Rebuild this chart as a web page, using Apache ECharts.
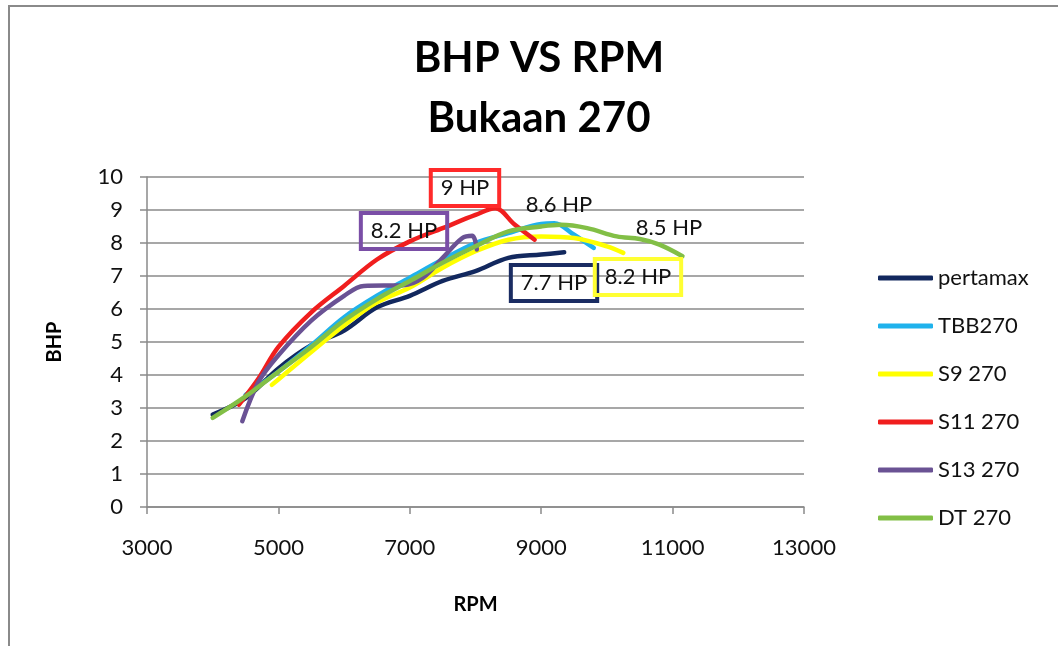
<!DOCTYPE html>
<html>
<head>
<meta charset="utf-8">
<script src="https://cdn.jsdelivr.net/npm/echarts@6/dist/echarts.min.js"></script>
<style>
html,body{margin:0;padding:0;background:#fff;}
#chart{width:1058px;height:646px;}
</style>
</head>
<body>
<div id="chart"></div>
<script>
// ---- data (RPM, BHP) ----
const seriesNames = ['pertamax', 'TBB270', 'S9 270', 'S11 270', 'S13 270', 'DT 270'];
const pertamax = [[4000,2.8],[4500,3.3],[5000,4.2],[5500,4.9],[6000,5.35],[6500,6.05],[7000,6.4],[7500,6.85],[8000,7.15],[8500,7.55],[9000,7.65],[9350,7.72]];
const tbb270 = [[4500,3.4],[5000,4.1],[5500,4.9],[6000,5.75],[6500,6.4],[7000,6.95],[7500,7.5],[8000,8.0],[8500,8.3],[9000,8.58],[9200,8.6],[9500,8.25],[9800,7.85]];
const s9_270 = [[4900,3.7],[5500,4.7],[6000,5.5],[6500,6.2],[7000,6.65],[7500,7.25],[8000,7.75],[8500,8.1],[9000,8.2],[9500,8.15],[10000,7.9],[10250,7.7]];
const s11_270 = [[4400,3.1],[4700,3.9],[5000,4.85],[5500,5.9],[6000,6.7],[6500,7.5],[7000,8.05],[7500,8.45],[8000,8.85],[8300,9.05],[8600,8.55],[8900,8.1]];
const s13_270 = [[4450,2.6],[4700,3.8],[5000,4.6],[5500,5.65],[6000,6.4],[6300,6.7],[6900,6.72],[7200,6.95],[7500,7.55],[7800,8.15],[7950,8.22],[8020,7.8]];
const dt270 = [[4000,2.7],[4500,3.35],[5000,4.1],[5500,4.85],[6000,5.65],[6500,6.3],[7000,6.85],[7500,7.4],[8000,7.9],[8500,8.35],[9000,8.5],[9300,8.55],[9700,8.45],[10150,8.2],[10500,8.12],[10800,7.95],[11150,7.6]];
const seriesData = [pertamax, tbb270, s9_270, s11_270, s13_270, dt270];
const seriesColors = ['#12285e', '#1fb2ec', '#ffff00', '#f01e1e', '#6a5294', '#82bf46'];

// annotations: [seriesIndex, text, rpm, bhp, boxColor]
const annoSeries = [3, 0, 4, 2, 1, 5];
const annoText = ['9 HP', '7.7 HP', '8.2 HP', '8.2 HP', '8.6 HP', '8.5 HP'];
const annoRpm = [7840, 9195, 6912, 10473, 9271, 10945];
const annoBhp = [9.67, 6.79, 8.36, 6.97, 9.15, 8.45];
const annoBox = ['#ff2a2a', '#1a2c62', '#7a4ea6', '#ffff33', null, null];

const xTicks = { min: 3000, max: 13000, interval: 2000 };
const yTicks = { min: 0, max: 10, interval: 1 };
const titleLines = ['BHP VS RPM', 'Bukaan 270'];

const FONT = 'Lato, "Open Sans", sans-serif';

const chart = echarts.init(document.getElementById('chart'), null, { renderer: 'canvas' });

const series = seriesNames.map((name, i) => {
  const marks = [];
  annoSeries.forEach((s, k) => {
    if (s !== i) return;
    const box = annoBox[k];
    marks.push({
      coord: [annoRpm[k], annoBhp[k]],
      symbol: 'rect',
      symbolSize: 1,
      itemStyle: { color: 'rgba(0,0,0,0)' },
      label: {
        show: true,
        position: 'inside',
        formatter: annoText[k],
        color: '#111',
        fontFamily: FONT,
        fontSize: 22,
        padding: [7, 10],
        borderColor: box || 'rgba(0,0,0,0)',
        borderWidth: box ? 2 : 0,
        backgroundColor: 'rgba(0,0,0,0)'
      }
    });
  });
  return {
    name: name,
    type: 'line',
    data: seriesData[i],
    smooth: 0.35,
    symbol: 'none',
    showSymbol: false,
    lineStyle: { width: 4.5, color: seriesColors[i], cap: 'round', join: 'round' },
    itemStyle: { color: seriesColors[i] },
    z: 2 + i,
    markPoint: marks.length ? { silent: true, data: marks, z: 10 } : undefined
  };
});

chart.setOption({
  animation: false,
  backgroundColor: '#fff',
  textStyle: { fontFamily: FONT },
  graphic: [{
    type: 'rect',
    shape: { x: 9, y: 6, width: 1200, height: 800 },
    style: { fill: 'none', stroke: '#8a8a8a', lineWidth: 2 },
    silent: true, z: -1
  }, {
    type: 'text',
    x: 539, y: 58,
    style: { text: titleLines[0], fontFamily: FONT, fontWeight: 'bold', fontSize: 42, fill: '#000', align: 'center', verticalAlign: 'middle' },
    silent: true
  }, {
    type: 'text',
    x: 539, y: 118,
    style: { text: titleLines[1], fontFamily: FONT, fontWeight: 'bold', fontSize: 42, fill: '#000', align: 'center', verticalAlign: 'middle' },
    silent: true
  }],
  legend: {
    orient: 'vertical',
    left: 873,
    top: 262,
    icon: 'roundRect',
    itemWidth: 55,
    itemHeight: 5,
    itemGap: 26,
    textStyle: { fontFamily: FONT, fontSize: 22, color: '#111' },
    data: seriesNames
  },
  grid: { left: 147, top: 177, width: 657, height: 330, containLabel: false },
  xAxis: {
    type: 'value',
    min: xTicks.min, max: xTicks.max, interval: xTicks.interval,
    name: 'RPM',
    nameLocation: 'middle',
    nameGap: 88,
    nameTextStyle: { fontFamily: FONT, fontWeight: 'bold', fontSize: 20, color: '#000' },
    axisLine: { show: true, onZero: false, lineStyle: { color: '#8a8a8a', width: 1.5 } },
    axisTick: { show: true, length: 7, lineStyle: { color: '#8a8a8a', width: 1.5 } },
    axisLabel: { margin: 30, fontFamily: FONT, fontSize: 22, color: '#111', formatter: v => String(v) },
    splitLine: { show: false }
  },
  yAxis: {
    type: 'value',
    min: yTicks.min, max: yTicks.max, interval: yTicks.interval,
    name: 'BHP',
    nameLocation: 'middle',
    nameGap: 82,
    nameRotate: 90,
    nameTextStyle: { fontFamily: FONT, fontWeight: 'bold', fontSize: 20, color: '#000' },
    axisLine: { show: true, lineStyle: { color: '#8a8a8a', width: 1.5 } },
    axisTick: { show: true, length: 7, lineStyle: { color: '#8a8a8a', width: 1.5 } },
    axisLabel: { margin: 24, fontFamily: FONT, fontSize: 22, color: '#111' },
    splitLine: { show: true, lineStyle: { color: '#8a8a8a', width: 1.5 } }
  },
  series: series
});
</script>
</body>
</html>
